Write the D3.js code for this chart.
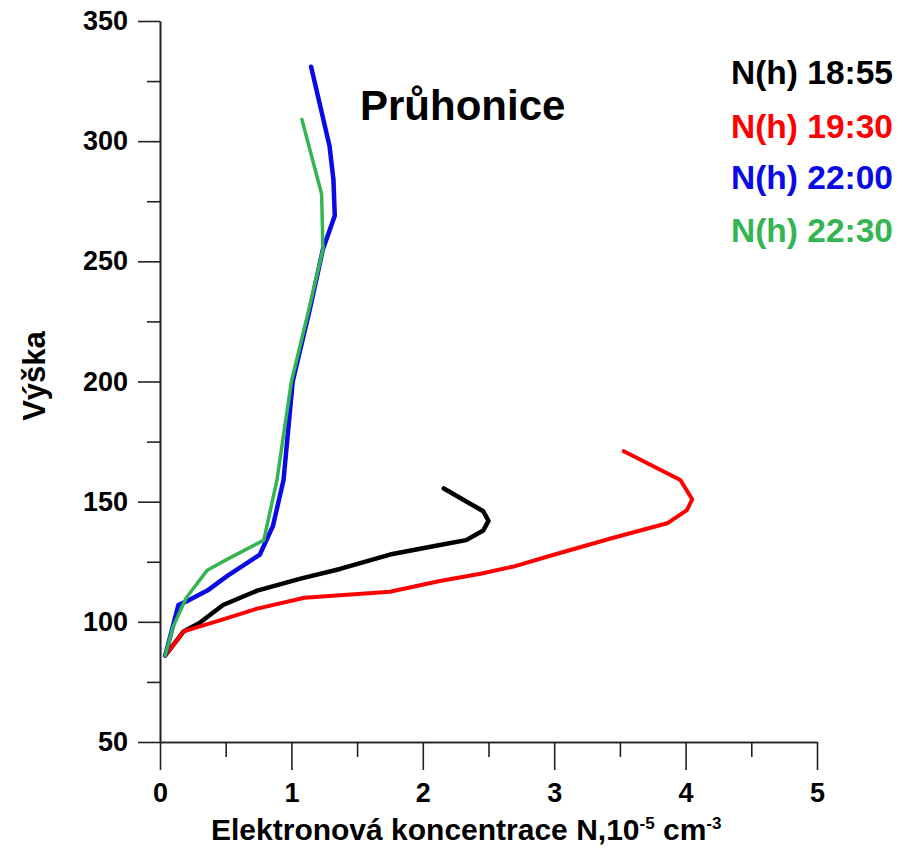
<!DOCTYPE html>
<html>
<head>
<meta charset="utf-8">
<script src="https://cdn.jsdelivr.net/npm/d3@7"></script>
<style>
  body { margin: 0; background: #fff; }
  svg text { font-family: "Liberation Sans", Arial, sans-serif; font-weight: bold; }
</style>
</head>
<body>
<div id="chart"></div>
<script>

// Elektronova koncentrace N (10^5 cm^-3) vs vyska (km)
var n1855 = [0.04, 0.18, 0.30, 0.48, 0.74, 1.07, 1.37, 1.75, 2.13, 2.33, 2.46, 2.50, 2.46, 2.16];
var h1855 = [86, 96, 99.5, 107, 113, 118, 122, 128, 132, 134, 138, 142, 146, 155.5];

var n1930 = [0.04, 0.18, 0.48, 0.74, 1.10, 1.75, 2.13, 2.44, 2.69, 2.97, 3.45, 3.86, 4.01, 4.05, 3.96, 3.53];
var h1930 = [86, 96, 101, 105.5, 110, 112.5, 117, 120, 123, 127.5, 135, 141, 146.5, 151, 159, 171];

var n2200 = [0.04, 0.14, 0.20, 0.36, 0.51, 0.76, 0.86, 0.94, 1.01, 1.14, 1.24, 1.33, 1.32, 1.29, 1.15];
var h2200 = [86, 107, 108.5, 113, 119, 128, 140, 159, 200, 230, 255, 269, 284, 298, 331];

var n2230 = [0.04, 0.10, 0.20, 0.36, 0.51, 0.79, 0.89, 1.00, 1.12, 1.24, 1.23, 1.08];
var h2230 = [86, 98, 110, 121.5, 126, 134, 159, 200, 227, 255, 278, 309];

var seriesNames = ["N(h) 18:55", "N(h) 19:30", "N(h) 22:00", "N(h) 22:30"];
var seriesColors = ["#000000", "#ff0000", "#0a0ae6", "#34b552"];

var xMajor = [0, 1, 2, 3, 4, 5];
var xMinor = [0.5, 1.5, 2.5, 3.5, 4.5];
var yMajor = [50, 100, 150, 200, 250, 300, 350];
var yMinor = [75, 125, 175, 225, 275, 325];

/////////////////////////////////////////////////////////////////////

var width = 910, height = 851;

var svg = d3.select("#chart").append("svg")
    .attr("width", width)
    .attr("height", height);

var x = d3.scaleLinear().domain([0, 5]).range([160, 817]);
var y = d3.scaleLinear().domain([50, 350]).range([742, 21]);

// axes - minor ticks first, then the majors with labels
svg.append("g")
    .attr("transform", "translate(160,0)")
    .call(d3.axisLeft(y).tickValues(yMinor).tickSize(13).tickSizeOuter(0).tickFormat(""));

var yAx = svg.append("g")
    .attr("transform", "translate(160,0)")
    .call(d3.axisLeft(y).tickValues(yMajor).tickSize(22).tickSizeOuter(0).tickPadding(10).tickFormat(d3.format("d")));

svg.append("g")
    .attr("transform", "translate(0,742)")
    .call(d3.axisBottom(x).tickValues(xMinor).tickSize(15).tickSizeOuter(0).tickFormat(""));

var xAx = svg.append("g")
    .attr("transform", "translate(0,742)")
    .call(d3.axisBottom(x).tickValues(xMajor).tickSize(28).tickSizeOuter(0).tickPadding(13).tickFormat(d3.format("d")));

svg.selectAll(".domain, .tick line")
    .attr("stroke", "#222")
    .attr("stroke-width", 1.6);

yAx.selectAll("text")
    .attr("font-size", 27)
    .attr("fill", "#000");
xAx.selectAll("text")
    .attr("font-size", 27)
    .attr("fill", "#000");

// axis titles
var xt = svg.append("text")
    .attr("x", 211)
    .attr("y", 840)
    .attr("font-size", 30)
    .attr("fill", "#000");
xt.append("tspan").text("Elektronová koncentrace N,10");
xt.append("tspan").attr("font-size", 17).attr("dy", -11).text("-5");
xt.append("tspan").attr("dy", 11).text(" cm");
xt.append("tspan").attr("font-size", 17).attr("dy", -11).text("-3");

svg.append("text")
    .attr("transform", "translate(45,376) rotate(-90)")
    .attr("text-anchor", "middle")
    .attr("font-size", 31)
    .attr("fill", "#000")
    .text("Výška");

svg.append("text")
    .attr("x", 360)
    .attr("y", 120)
    .attr("font-size", 42)
    .attr("fill", "#000")
    .text("Průhonice");

// curves
var allN = [n1855, n1930, n2200, n2230];
var allH = [h1855, h1930, h2200, h2230];
var widths = [4.5, 4, 4.5, 3.5];

var line = d3.line()
    .x(function(d) { return x(d[0]); })
    .y(function(d) { return y(d[1]); });

allN.forEach(function(ns, i) {
  var pts = ns.map(function(v, j) { return [v, allH[i][j]]; });
  svg.append("path")
      .datum(pts)
      .attr("d", line)
      .attr("fill", "none")
      .attr("stroke", seriesColors[i])
      .attr("stroke-width", widths[i])
      .attr("stroke-linejoin", "round")
      .attr("stroke-linecap", "round");
});

// legend
var legBase = [84, 138, 189, 242];
svg.selectAll(".leg")
    .data(seriesNames)
    .enter().append("text")
    .attr("class", "leg")
    .attr("x", 731)
    .attr("y", function(d, i) { return legBase[i]; })
    .attr("font-size", 33.5)
    .attr("fill", function(d, i) { return seriesColors[i]; })
    .text(function(d) { return d; });

</script>
</body>
</html>
